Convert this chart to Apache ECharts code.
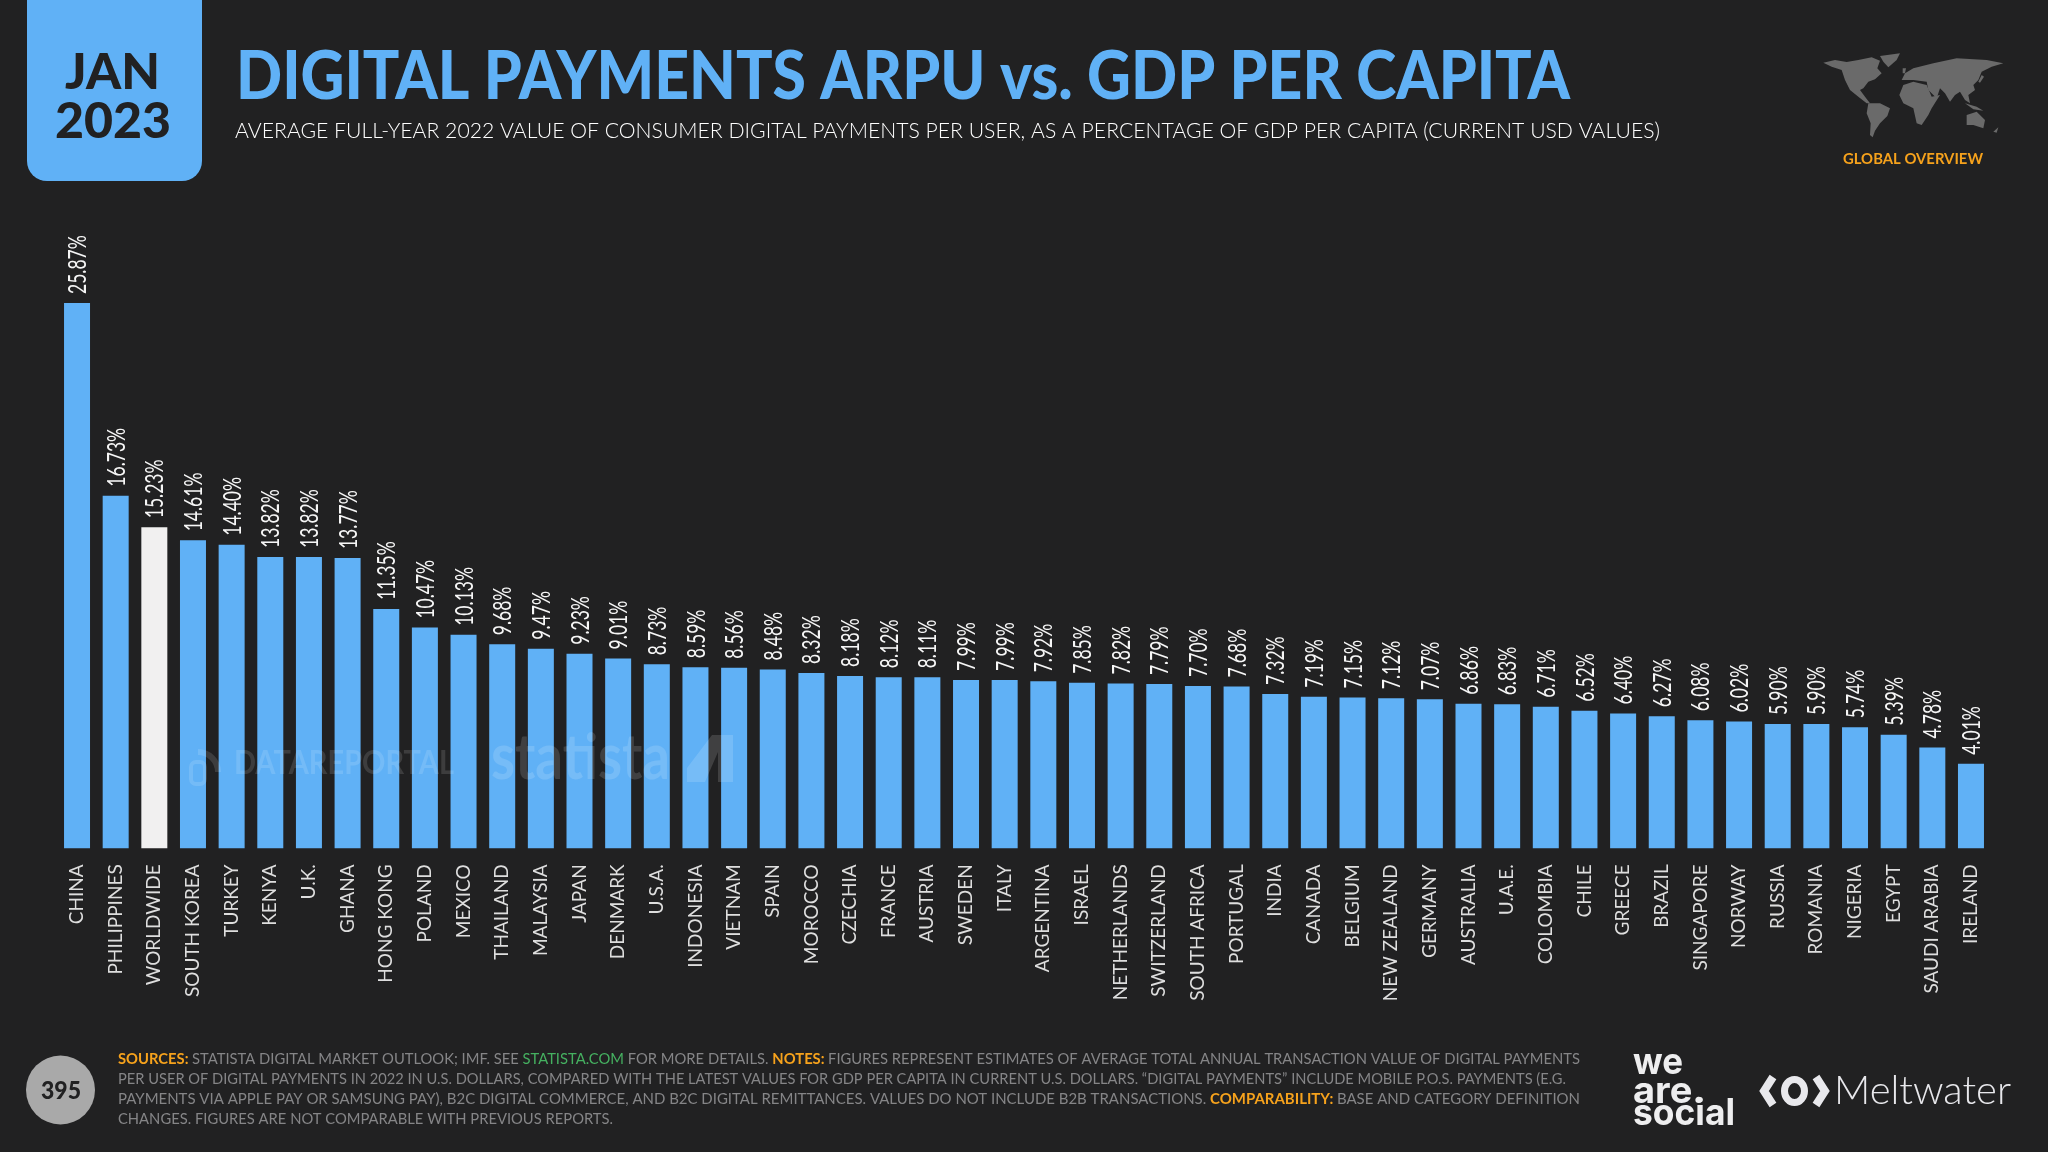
<!DOCTYPE html>
<html>
<head>
<meta charset="utf-8">
<title>Digital payments ARPU vs. GDP per capita</title>
<style>
  html, body { margin: 0; padding: 0; background: #212122; }
  #chart { width: 2048px; height: 1152px; }
</style>
<script src="https://cdn.jsdelivr.net/npm/echarts@6/dist/echarts.min.js"></script>
</head>
<body>
<div id="chart"></div>
<script>
var categories = ["CHINA","PHILIPPINES","WORLDWIDE","SOUTH KOREA","TURKEY","KENYA","U.K.","GHANA","HONG KONG","POLAND",
  "MEXICO","THAILAND","MALAYSIA","JAPAN","DENMARK","U.S.A.","INDONESIA","VIETNAM","SPAIN","MOROCCO",
  "CZECHIA","FRANCE","AUSTRIA","SWEDEN","ITALY","ARGENTINA","ISRAEL","NETHERLANDS","SWITZERLAND","SOUTH AFRICA",
  "PORTUGAL","INDIA","CANADA","BELGIUM","NEW ZEALAND","GERMANY","AUSTRALIA","U.A.E.","COLOMBIA","CHILE",
  "GREECE","BRAZIL","SINGAPORE","NORWAY","RUSSIA","ROMANIA","NIGERIA","EGYPT","SAUDI ARABIA","IRELAND"];
var arpuShare = [25.87,16.73,15.23,14.61,14.40,13.82,13.82,13.77,11.35,10.47,
  10.13,9.68,9.47,9.23,9.01,8.73,8.59,8.56,8.48,8.32,
  8.18,8.12,8.11,7.99,7.99,7.92,7.85,7.82,7.79,7.70,
  7.68,7.32,7.19,7.15,7.12,7.07,6.86,6.83,6.71,6.52,
  6.40,6.27,6.08,6.02,5.90,5.90,5.74,5.39,4.78,4.01];
var highlightCategory = "WORLDWIDE";

var BG = "#212122", BLUE = "#60b1f6", ORANGE = "#f6a21c", GREY = "#858587", WHITE = "#f1f0f0";

var mapShapes = [
  [[70,68],[105,60],[140,66],[175,60],[215,52],[240,62],[232,85],[245,100],[225,118],[205,125],[190,145],[180,150],[195,170],[210,190],[200,190],[175,170],[150,150],[135,120],[125,90],[95,80]],
  [[240,48],[300,40],[290,60],[265,82],[250,65]],
  [[205,190],[240,190],[270,205],[262,228],[240,250],[225,272],[218,292],[210,285],[212,250],[200,220]],
  [[310,135],[340,125],[380,135],[395,170],[420,165],[395,205],[385,225],[365,255],[350,250],[340,205],[310,190],[298,165]],
  [[305,120],[315,100],[340,85],[400,70],[470,55],[560,60],[610,70],[575,80],[545,95],[535,120],[520,135],[525,150],[505,165],[510,190],[495,180],[480,155],[465,165],[450,185],[435,160],[420,145],[410,175],[385,150],[380,125],[340,120]],
  [[500,225],[530,215],[555,240],[550,265],[520,255],[500,255]],
  [[495,190],[530,200],[550,212],[520,208]],
  [[308,85],[318,85],[315,100],[308,100]],
  [[545,105],[552,110],[540,128],[535,125]],
  [[580,275],[595,262],[590,278]]
];

var footerLines = [
  [["SOURCES: ","b"],["STATISTA DIGITAL MARKET OUTLOOK; IMF. SEE ","n"],["STATISTA.COM","g"],[" FOR MORE DETAILS. ","n"],["NOTES: ","b"],["FIGURES REPRESENT ESTIMATES OF AVERAGE TOTAL ANNUAL TRANSACTION VALUE OF DIGITAL PAYMENTS","n"]],
  [["PER USER OF DIGITAL PAYMENTS IN 2022 IN U.S. DOLLARS, COMPARED WITH THE LATEST VALUES FOR GDP PER CAPITA IN CURRENT U.S. DOLLARS. \u201CDIGITAL PAYMENTS\u201D INCLUDE MOBILE P.O.S. PAYMENTS (E.G.","n"]],
  [["PAYMENTS VIA APPLE PAY OR SAMSUNG PAY), B2C DIGITAL COMMERCE, AND B2C DIGITAL REMITTANCES. VALUES DO NOT INCLUDE B2B TRANSACTIONS. ","n"],["COMPARABILITY: ","b"],["BASE AND CATEGORY DEFINITION","n"]],
  [["CHANGES. FIGURES ARE NOT COMPARABLE WITH PREVIOUS REPORTS.","n"]]
];
var footerWidths = [1462, 1448, 1462, 495];
var footerCentres = [1059, 1079, 1099, 1119];

var measureCtx = document.createElement("canvas").getContext("2d");
function textWidth(text, font) {
  measureCtx.font = font;
  return measureCtx.measureText(text).width;
}

// text squeezed to the width it has in the reference
function fitted(text, font, fill, x, y, width, extra) {
  var el = {
    type: "text", x: x, y: y, scaleX: width / textWidth(text, font), silent: true,
    style: { text: text, font: font, fill: fill, textAlign: "left", textVerticalAlign: "middle" }
  };
  for (var k in (extra || {})) { el[k] = extra[k]; }
  return el;
}

function footerLine(segments, width, y) {
  var fonts = {
    n: "400 15.5px Lato",
    b: "700 15.5px Lato",
    g: "400 15.5px Lato"
  };
  var total = 0, text = "";
  for (var i = 0; i < segments.length; i++) {
    total += textWidth(segments[i][0], fonts[segments[i][1]]);
    text += "{" + segments[i][1] + "|" + segments[i][0] + "}";
  }
  return {
    type: "text", x: 118, y: y, scaleX: width / total, silent: true,
    style: {
      text: text, textAlign: "left", textVerticalAlign: "middle",
      rich: {
        n: { font: fonts.n, fill: GREY },
        b: { font: fonts.b, fill: ORANGE },
        g: { font: fonts.g, fill: "#45b060" }
      }
    }
  };
}

function buildGraphic() {
  var els = [];

  // date tab
  els.push({ type: "rect", shape: { x: 27, y: -20, width: 175, height: 201, r: 20 }, style: { fill: BLUE }, silent: true });
  els.push(fitted("JAN", "900 50px Lato", BG, 65, 73, 95));
  els.push(fitted("2023", "900 50px Lato", BG, 55, 122, 116));

  // heading
  els.push(fitted("DIGITAL PAYMENTS ARPU vs. GDP PER CAPITA", "900 66px Lato", BLUE, 236, 78, 1334));
  els.push(fitted("AVERAGE FULL-YEAR 2022 VALUE OF CONSUMER DIGITAL PAYMENTS PER USER, AS A PERCENTAGE OF GDP PER CAPITA (CURRENT USD VALUES)",
    "300 22px Lato", "#ffffff", 235, 131, 1425));

  // world map badge
  for (var m = 0; m < mapShapes.length; m++) {
    var pts = [];
    for (var p = 0; p < mapShapes[m].length; p++) {
      pts.push([1800 + mapShapes[m][p][0] / 3, 40 + mapShapes[m][p][1] / 3]);
    }
    els.push({ type: "polygon", shape: { points: pts }, style: { fill: "#6a6a6a" }, silent: true });
  }
  els.push(fitted("GLOBAL OVERVIEW", "700 16px Lato", ORANGE, 1843, 158.5, 140));

  // watermarks
  els.push(fitted("DATAREPORTAL", "700 32px Lato", "rgba(255,255,255,0.13)", 234, 764, 220, { z: 20 }));
  els.push({ type: "arc", shape: { cx: 198, cy: 772, r: 20, startAngle: -Math.PI / 2, endAngle: 0 }, style: { fill: "none", stroke: "rgba(255,255,255,0.13)", lineWidth: 6 }, z: 20, silent: true });
  els.push({ type: "rect", shape: { x: 191, y: 762, width: 14, height: 22, r: 5 }, style: { fill: "none", stroke: "rgba(255,255,255,0.13)", lineWidth: 4 }, z: 20, silent: true });
  els.push(fitted("statista", "700 64px Lato", "rgba(255,255,255,0.14)", 491, 758, 179, { z: 20 }));
  els.push({ type: "polygon", shape: { points: [[687,782],[687,768],[712,735],[733,735],[733,782],[718,782],[718,752],[705,782]] }, style: { fill: "rgba(255,255,255,0.14)" }, z: 20, silent: true });

  // page number
  els.push({ type: "circle", shape: { cx: 60.5, cy: 1090, r: 34.5 }, style: { fill: "#a9a9a9" }, silent: true });
  els.push(fitted("395", "900 24px Lato", BG, 41, 1091, 40));

  // footnotes
  for (var i = 0; i < footerLines.length; i++) {
    els.push(footerLine(footerLines[i], footerWidths[i], footerCentres[i]));
  }

  // sponsor marks
  els.push(fitted("we", "700 37px Inter", "#eeeeef", 1633, 1063, 50));
  els.push(fitted("are.", "700 37px Inter", "#eeeeef", 1633, 1092, 72));
  els.push(fitted("social", "700 37px Inter", "#eeeeef", 1633, 1114, 102));
  els.push({ type: "polyline", shape: { points: [[1773,1077],[1764,1091],[1773,1105]] }, style: { fill: "none", stroke: "#e8e8ec", lineWidth: 8 }, silent: true });
  els.push({ type: "polyline", shape: { points: [[1816,1077],[1825,1091],[1816,1105]] }, style: { fill: "none", stroke: "#e8e8ec", lineWidth: 8 }, silent: true });
  els.push({ type: "ellipse", shape: { cx: 1794.5, cy: 1091, rx: 10, ry: 11.5 }, style: { fill: "none", stroke: "#e8e8ec", lineWidth: 7 }, silent: true });
  els.push(fitted("Meltwater", "300 39px Lato", "#e8e8ec", 1834, 1091, 177));

  return els;
}

// value labels are condensed in the reference, so they are squeezed along the text
function renderValueLabel(params, api) {
  var point = api.coord([api.value(0), api.value(1)]);
  return {
    type: "text",
    x: point[0] + 1,
    y: point[1] - 9,
    rotation: Math.PI / 2,
    scaleX: 0.7,
    silent: true,
    style: {
      text: api.value(1).toFixed(2) + "%",
      font: "400 25px Lato",
      fill: "#f6f6f6",
      textAlign: "left",
      textVerticalAlign: "middle"
    }
  };
}

var labelData = [];
for (var n = 0; n < arpuShare.length; n++) { labelData.push([n, arpuShare[n]]); }

var chart = echarts.init(document.getElementById("chart"), null, { renderer: "canvas" });
chart.setOption({
  animation: false,
  backgroundColor: BG,
  grid: { left: 57.7, top: 303, width: 1932.6, height: 545.3, containLabel: false },
  xAxis: {
    type: "category",
    data: categories,
    axisLine: { show: false },
    axisTick: { show: false },
    axisLabel: { interval: 0, rotate: 90, margin: 16, color: "#dedede", fontFamily: "Lato", fontSize: 19 }
  },
  yAxis: { type: "value", min: 0, max: 25.87, show: false, splitLine: { show: false } },
  series: [{
    type: "bar",
    data: arpuShare,
    barWidth: 26,
    itemStyle: {
      color: function (params) {
        return categories[params.dataIndex] === highlightCategory ? WHITE : BLUE;
      }
    }
  }, {
    type: "custom",
    data: labelData,
    clip: false,
    renderItem: renderValueLabel
  }],
  graphic: buildGraphic()
});
</script>
</body>
</html>
